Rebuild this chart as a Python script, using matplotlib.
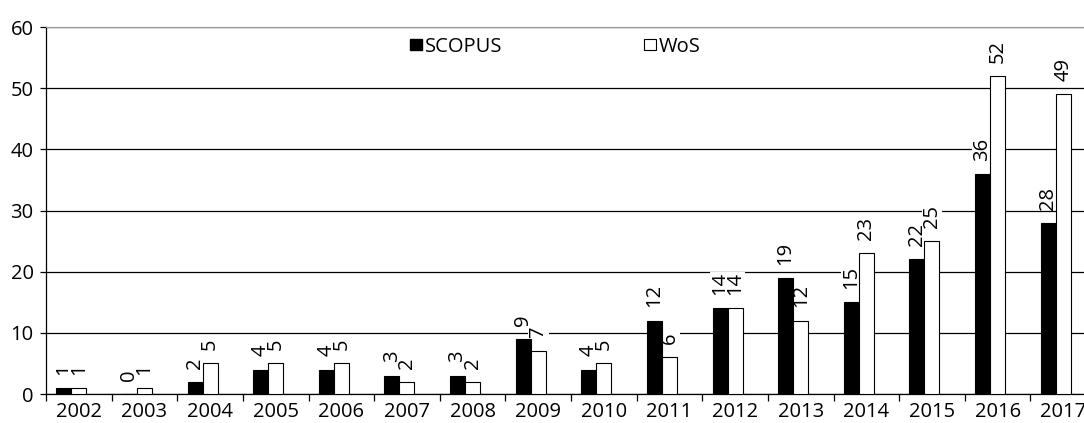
import numpy as np
import matplotlib
matplotlib.use("Agg")
import matplotlib.pyplot as plt
from matplotlib.patches import Patch

plt.rcParams['font.family'] = ['Open Sans', 'DejaVu Sans']

years = ['2002', '2003', '2004', '2005', '2006', '2007', '2008', '2009',
         '2010', '2011', '2012', '2013', '2014', '2015', '2016', '2017']
scopus = [1, 0, 2, 4, 4, 3, 3, 9, 4, 12, 14, 19, 15, 22, 36, 28]
wos = [1, 1, 5, 5, 5, 2, 2, 7, 5, 6, 14, 12, 23, 25, 52, 49]

fs = 14.5

fig = plt.figure(figsize=(10.84, 4.23), dpi=100)
# plot area runs past the right edge, like the cropped original
ax = fig.add_axes([46/1084, 29/423, 1050/1084, 367/423])

x = np.arange(len(years))
w = 0.229
# white bar on the category centre, black one just left of it
b1 = ax.bar(x - 1.5*w, scopus, w, align='edge', color='black', edgecolor='black', linewidth=0.8, zorder=3)
b2 = ax.bar(x - 0.5*w, wos, w, align='edge', color='white', edgecolor='black', linewidth=0.8, zorder=3)

# labels sit on white boxes that hide the gridlines but stay under the bars
for bars, vals in ((b1, scopus), (b2, wos)):
    for r, v in zip(bars, vals):
        ax.annotate(str(v), (r.get_x() + r.get_width()/2, v), xytext=(0, 9.5),
                    textcoords='offset points', rotation=90, ha='center', va='bottom',
                    fontsize=fs, zorder=2,
                    bbox=dict(facecolor='white', edgecolor='none', pad=0.3))

ax.set_xlim(-0.5, len(years) - 0.5)
ax.set_ylim(0, 60)
ax.set_yticks(range(0, 61, 10))
ax.yaxis.grid(True, color='black', linewidth=0.9, zorder=0)
ax.set_axisbelow(True)
ax.set_xticks(x)
ax.set_xticklabels(years)
ax.set_xticks(np.arange(-0.5, len(years)), minor=True)
ax.tick_params(axis='x', which='major', length=0, pad=6, labelsize=fs)
ax.tick_params(axis='x', which='minor', length=5, width=0.9, direction='out')
ax.tick_params(axis='y', length=4, width=0.9, pad=5, labelsize=fs)

ax.spines['top'].set_color('#999999')
ax.spines['right'].set_visible(False)
ax.spines['left'].set_linewidth(0.9)
ax.spines['bottom'].set_linewidth(0.9)

handles = [Patch(facecolor='black', edgecolor='black', label='SCOPUS'),
           Patch(facecolor='white', edgecolor='black', linewidth=0.8, label='WoS')]
fig.legend(handles=handles, loc='center left', bbox_to_anchor=(410/1084, 1 - 47/423),
           ncol=2, frameon=False, fontsize=fs, handlelength=0.6, handleheight=0.45,
           handletextpad=0.15, columnspacing=7.0, borderpad=0, borderaxespad=0)

fig.savefig('out.png', dpi=100)
